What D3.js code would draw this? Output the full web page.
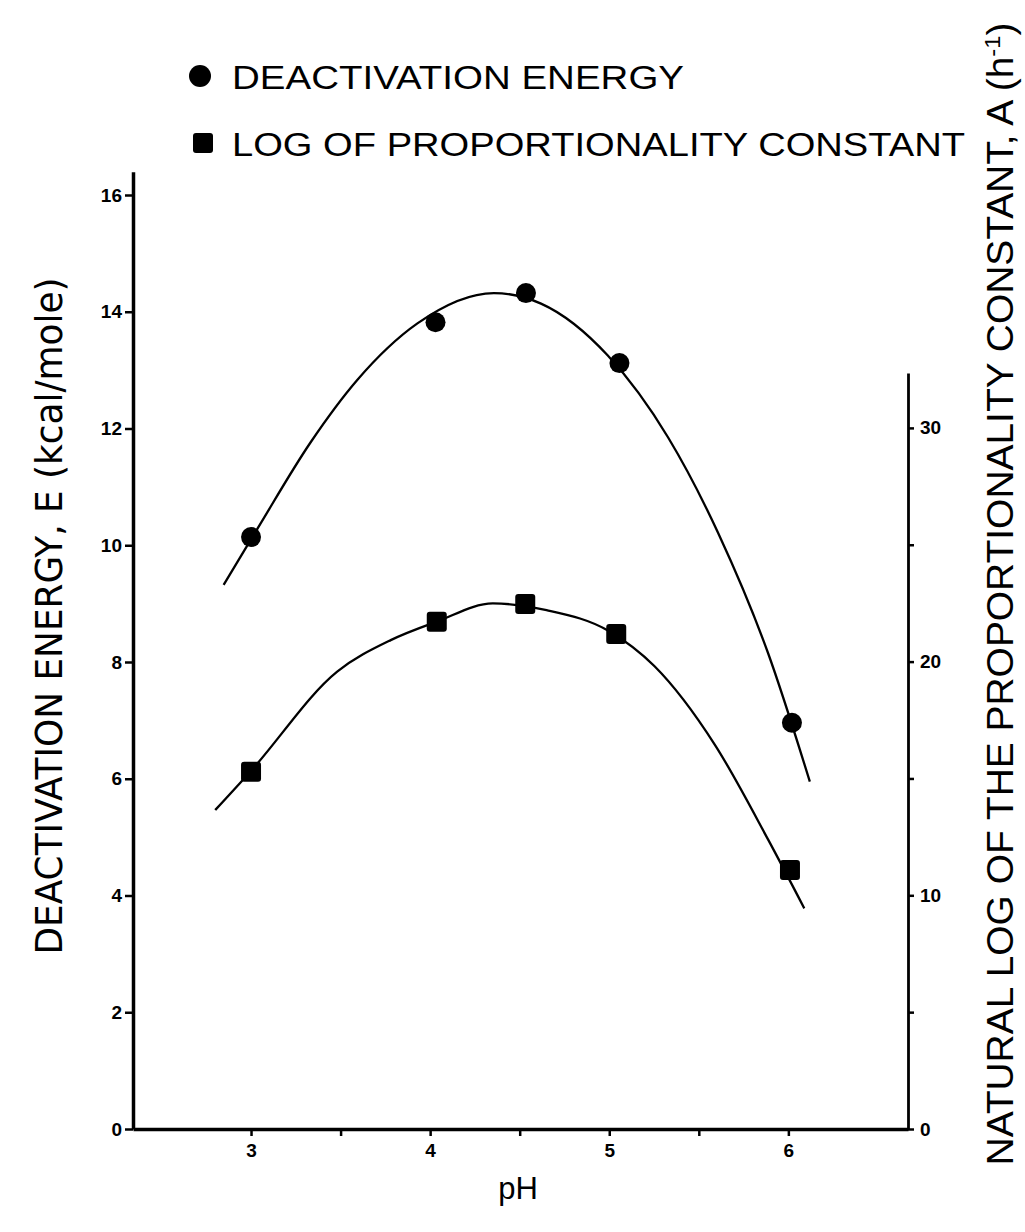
<!DOCTYPE html>
<html>
<head>
<meta charset="utf-8">
<script src="https://cdn.jsdelivr.net/npm/d3@7"></script>
<style>
  html, body { margin: 0; padding: 0; background: #fff; }
  svg { display: block; }
</style>
</head>
<body>
<script>
// Measured points: pH vs deactivation energy E (kcal/mole), left axis
const phE = [3.0, 4.03, 4.535, 5.057, 6.02];
const energy = [10.14, 13.82, 14.32, 13.12, 6.96];

// Measured points: pH vs ln A (h^-1), right axis
const phA = [3.0, 4.037, 4.531, 5.039, 6.009];
const lnA = [15.29, 21.71, 22.46, 21.18, 11.08];

// Hand-fitted smooth curves through each series
const curveEph = [2.847, 3.041, 3.332, 3.593, 3.929, 4.356, 4.619, 4.992, 5.328, 5.608, 5.887, 6.12];
const curveE   = [9.32, 10.31, 11.76, 12.83, 13.80, 14.32, 14.14, 13.25, 11.85, 10.21, 8.15, 5.95];
const curveAph = [2.80, 2.996, 3.481, 3.78, 4.037, 4.35, 4.65, 5.0, 5.253, 5.589, 5.888, 6.089];
const curveA   = [13.65, 15.29, 19.57, 20.92, 21.71, 22.49, 22.2, 21.3, 19.8, 16.45, 12.37, 9.44];

// Axis ticks
const xMajor = [3, 4, 5, 6];
const xMinor = [3.5, 4.5, 5.5];
const leftTicks = [0, 2, 4, 6, 8, 10, 12, 14, 16];
const rightMajor = [0, 10, 20, 30];
const rightMinor = [5, 15, 25];

const W = 1025, H = 1232;
const svg = d3.select("body").append("svg").attr("width", W).attr("height", H);

const x = d3.scaleLinear().domain([2.341, 6.668]).range([133, 908]);
const yL = d3.scaleLinear().domain([0, 16.4]).range([1129, 1129 - 16.4 * 58.375]);
const yR = d3.scaleLinear().domain([0, 32.35]).range([1129, 1129 - 32.35 * 23.37]);

function styleAxis(g, domainWidth) {
  g.select(".domain").attr("stroke-width", domainWidth);
  g.selectAll(".tick line").attr("stroke-width", 2.5);
  g.selectAll(".tick text")
    .style("font-family", "'Liberation Sans', Arial, sans-serif")
    .style("font-weight", "bold")
    .style("font-size", "19px")
    .style("fill", "#000");
}

// X axis (pH)
const gx = svg.append("g").attr("transform", "translate(0,1129)")
  .call(d3.axisBottom(x).tickValues(xMajor.concat(xMinor)).tickSize(7).tickSizeOuter(0).tickPadding(8)
    .tickFormat(d => xMajor.includes(d) ? d3.format("d")(d) : ""));
styleAxis(gx, 3.5);

// Left axis (E)
const gl = svg.append("g").attr("transform", "translate(133,0)")
  .call(d3.axisLeft(yL).tickValues(leftTicks).tickSize(8).tickSizeOuter(0).tickPadding(3));
styleAxis(gl, 3.5);

// Right axis (ln A)
const gr = svg.append("g").attr("transform", "translate(908,0)")
  .call(d3.axisRight(yR).tickValues(rightMajor.concat(rightMinor)).tickSize(6).tickSizeOuter(0).tickPadding(6)
    .tickFormat(d => rightMajor.includes(d) ? d3.format("d")(d) : ""));
styleAxis(gr, 2.8);

// Curves
const lineE = d3.line().x(d => x(d[0])).y(d => yL(d[1])).curve(d3.curveMonotoneX);
const lineA = d3.line().x(d => x(d[0])).y(d => yR(d[1])).curve(d3.curveMonotoneX);

svg.append("path").datum(d3.zip(curveEph, curveE)).attr("d", lineE)
  .attr("fill", "none").attr("stroke", "#000").attr("stroke-width", 2.3);
svg.append("path").datum(d3.zip(curveAph, curveA)).attr("d", lineA)
  .attr("fill", "none").attr("stroke", "#000").attr("stroke-width", 2.3);

// Markers
svg.append("g").selectAll("circle").data(d3.zip(phE, energy)).join("circle")
  .attr("cx", d => x(d[0])).attr("cy", d => yL(d[1])).attr("r", 10).attr("fill", "#000");
const sq = 20;
svg.append("g").selectAll("rect").data(d3.zip(phA, lnA)).join("rect")
  .attr("x", d => x(d[0]) - sq / 2).attr("y", d => yR(d[1]) - sq / 2)
  .attr("width", sq).attr("height", sq).attr("rx", 3).attr("fill", "#000");

// Legend
const legendFont = "'Liberation Sans', Arial, sans-serif";
svg.append("circle").attr("cx", 200).attr("cy", 76).attr("r", 11).attr("fill", "#000");
svg.append("text").attr("x", 232).attr("y", 89).attr("font-family", legendFont).attr("font-size", 34)
  .attr("textLength", 452).attr("lengthAdjust", "spacingAndGlyphs").text("DEACTIVATION ENERGY");
svg.append("rect").attr("x", 193).attr("y", 133).attr("width", 20).attr("height", 20).attr("rx", 3).attr("fill", "#000");
svg.append("text").attr("x", 232).attr("y", 156).attr("font-family", legendFont).attr("font-size", 34)
  .attr("textLength", 733).attr("lengthAdjust", "spacingAndGlyphs").text("LOG OF  PROPORTIONALITY  CONSTANT");

// Axis titles
svg.append("text").attr("x", 518).attr("y", 1199).attr("text-anchor", "middle")
  .attr("font-family", legendFont).attr("font-size", 31).text("pH");

svg.append("text").attr("transform", "translate(62,616) rotate(-90)").attr("text-anchor", "middle")
  .attr("font-family", "'Liberation Sans Narrow', 'DejaVu Sans Condensed', sans-serif").attr("font-size", 38)
  .attr("textLength", 677).attr("lengthAdjust", "spacingAndGlyphs")
  .text("DEACTIVATION ENERGY, E (kcal/mole)");

const rt = svg.append("text").attr("transform", "translate(1013,594) rotate(-90)").attr("text-anchor", "middle")
  .attr("font-family", legendFont).attr("font-size", 36)
  .attr("textLength", 1143).attr("lengthAdjust", "spacingAndGlyphs");
rt.append("tspan").text("NATURAL LOG OF THE PROPORTIONALITY CONSTANT, A (h");
rt.append("tspan").attr("font-size", 22).attr("dy", -13).text("-1");
rt.append("tspan").attr("dy", 13).text(")");
</script>
</body>
</html>
